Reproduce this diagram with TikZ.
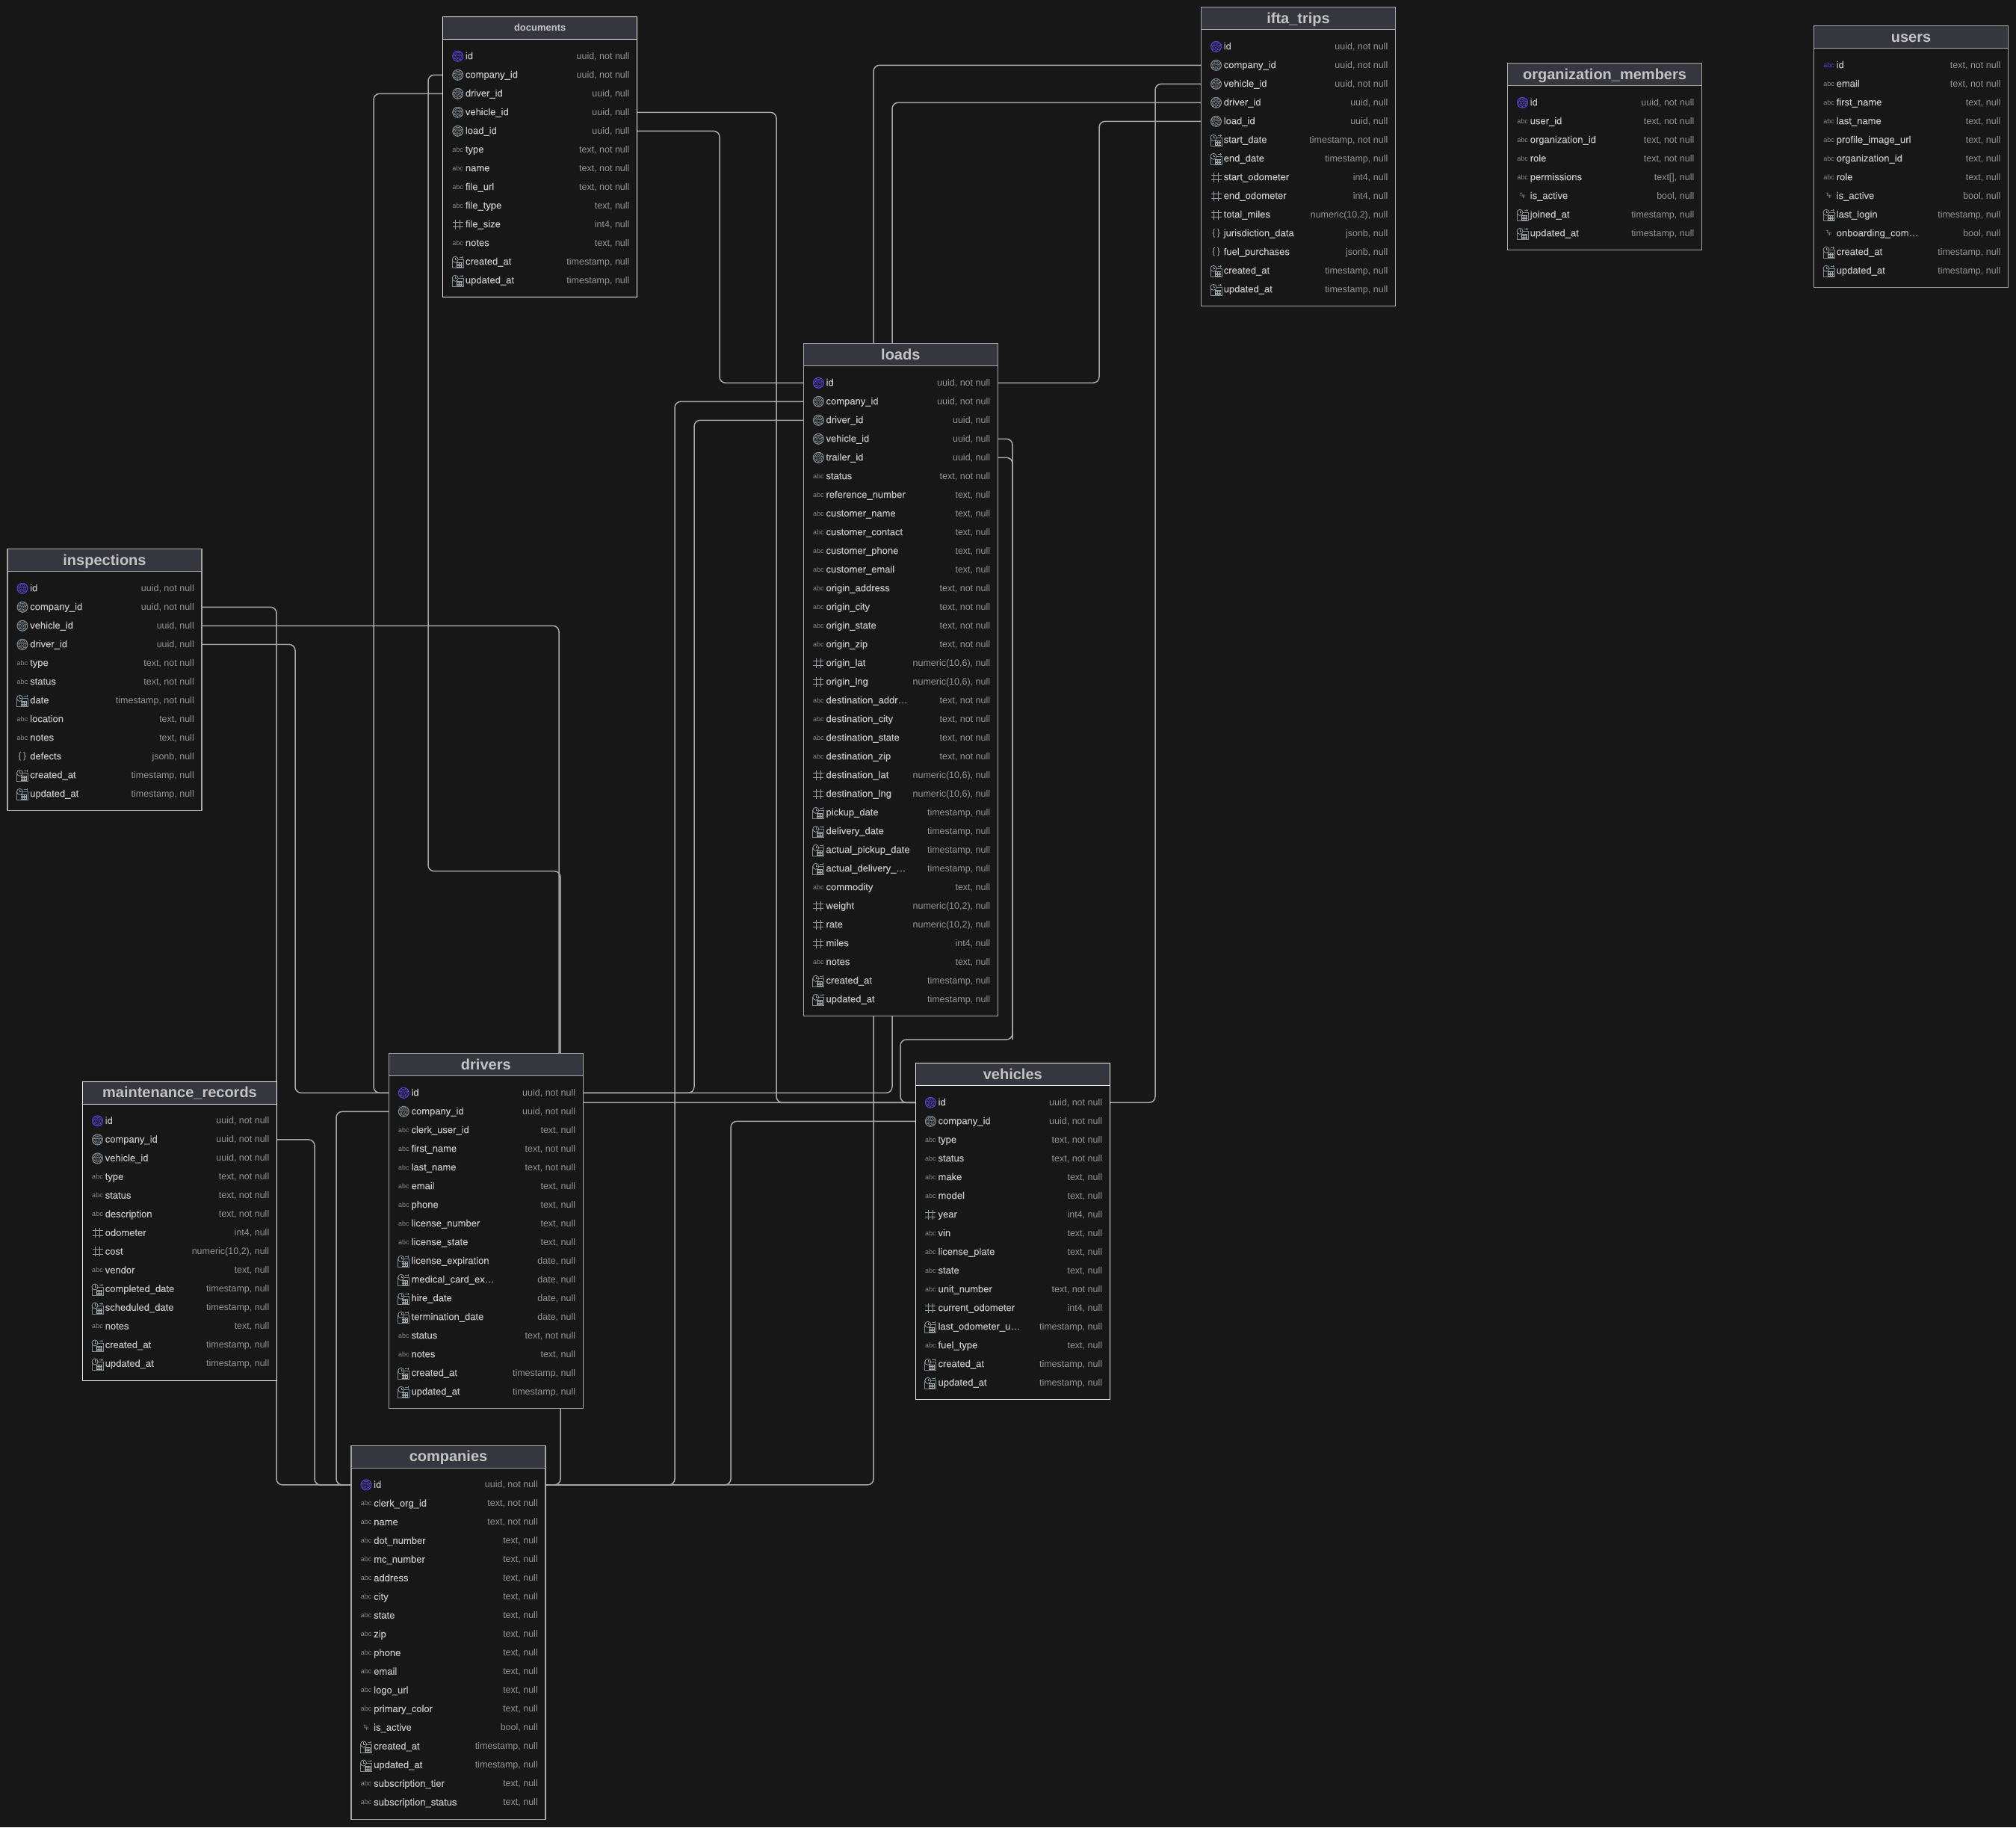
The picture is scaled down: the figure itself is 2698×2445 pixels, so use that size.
\documentclass[tikz,border=0pt]{standalone}
\usepackage{fontspec}
\setmainfont{Liberation Sans}
\newfontfamily\fieldfont[FakeBold=0.2]{Liberation Sans}
\usetikzlibrary{positioning}
\catcode`\_=12

\definecolor{canvas}{HTML}{171717}
\definecolor{headfill}{HTML}{36363F}
\definecolor{edgewhite}{HTML}{F2F2F2}
\definecolor{edgegray}{HTML}{A8A8A8}
\definecolor{fieldtxt}{HTML}{C4C4C4}
\definecolor{typetxt}{HTML}{949494}
\definecolor{icongray}{HTML}{7F8A90}
\definecolor{iconpk}{HTML}{5A3FD0}

\pgfdeclarelayer{canvaslayer}
\pgfdeclarelayer{linklayer}
\pgfsetlayers{canvaslayer,linklayer,main}

\tikzset{
    tablebox/.style={rectangle, fill=canvas, line width=1.5pt, minimum width=260pt, inner sep=0pt, outer sep=0pt, anchor=north west},
    headbox/.style={rectangle, fill=headfill, line width=1.5pt, minimum width=260pt, minimum height=30pt, inner sep=0pt, outer sep=0pt, anchor=north west, text=fieldtxt, text height=17pt, text depth=4pt, font=\fontsize{20}{22}\selectfont\bfseries},
    rowbox/.style={rectangle, minimum width=260pt, minimum height=25pt, inner sep=0pt, outer sep=0pt, anchor=west},
    fieldname/.style={inner sep=0pt, anchor=base west, text=fieldtxt, font=\fontsize{13}{15}\fieldfont},
    fieldtype/.style={inner sep=0pt, anchor=base east, text=typetxt, font=\fontsize{12.5}{15}\selectfont},
    abcicon/.style={inner sep=0pt, anchor=base, font=\fontsize{9}{11}\selectfont},
    iconline/.style={line width=0.8pt},
    rel/.style={draw=edgegray, line width=1.5pt, rounded corners=8pt}
}

% icons of the column types, drawn round (#1,#2) in colour #3
\newcommand{\iconfinger}[3]{
    \fill[#3] (#1,#2) circle (7.5);
    \foreach \rad in {1,2.6,4.2,5.8}
        \draw[canvas, line width=0.9pt, dash pattern=on 4pt off 1pt] (#1,#2) circle (\rad);
}
\newcommand{\iconk}[2]{\iconfinger{#1}{#2}{iconpk}}
\newcommand{\iconf}[2]{\iconfinger{#1}{#2}{icongray}}
\newcommand{\icona}[2]{\node[abcicon, text=icongray] (\rowid-i) at (#1,#2+3) {abc};}
\newcommand{\iconp}[2]{\node[abcicon, text=iconpk] (\rowid-i) at (#1,#2+3) {abc};}
\newcommand{\iconb}[2]{\node[abcicon, text=icongray!70!white, font=\fontsize{6}{7}\selectfont] (\rowid-i) at (#1,#2+2) {\raisebox{1.5pt}{T}\kern-0.6pt/\kern-0.6pt\raisebox{-1.5pt}{F}};}
\newcommand{\iconj}[2]{\node[abcicon, text=icongray!70!white, font=\fontsize{12}{13}\selectfont] (\rowid-i) at (#1,#2+3.5) {\{\kern2.5pt\}};}
\newcommand{\iconn}[2]{
    \draw[icongray!85!white, line width=1pt] (#1-3,#2-6.5) -- (#1-3,#2+6.5) (#1+3,#2-6.5) -- (#1+3,#2+6.5)
        (#1-7,#2-3.3) -- (#1+7,#2-3.3) (#1-7,#2+3.3) -- (#1+7,#2+3.3);
}
\newcommand{\icont}[2]{
    \draw[icongray, iconline] (#1-7.5,#2-3) rectangle (#1+7.5,#2+8);
    \draw[icongray, iconline] (#1+2,#2-5.5) -- (#1+7,#2-5.5) (#1+6,#2-7) -- (#1+6,#2-4);
    \foreach \gy in {1,3,5,7}
        \draw[icongray!70!white, line width=0.5pt] (#1-2,#2+\gy) -- (#1+6,#2+\gy);
    \foreach \gx in {-1,2,5}
        \draw[icongray!70!white, line width=0.5pt] (#1+\gx,#2+1) -- (#1+\gx,#2+7);
    \filldraw[draw=icongray!85!white, fill=canvas, iconline] (#1-3.5,#2-3) circle (4);
    \draw[icongray!85!white, line width=0.6pt] (#1-3.5,#2-5.5) -- (#1-3.5,#2-3) -- (#1-1.5,#2-3);
}

% name, title, left, top, number of rows, edge colour, rows
\newcommand{\dbtable}[7]{
    \pgfmathsetmacro{\boxh}{52+25*(#5-1)+23}
    \node[tablebox, draw=#6, minimum height=\boxh] (#1) at (#3,#4) {};
    \node[headbox, draw=#6] (#1-head) at (#3,#4) {#2};
    \foreach \ic/\col/\typ [count=\rw] in {#7} {
        \pgfmathsetmacro{\rwy}{#4+52.6+25*(\rw-1)}
        \def\rowid{#1-\rw}
        \node[rowbox] (\rowid) at (#3,\rwy) {};
        \csname icon\ic\endcsname{#3+20}{\rwy}
        \node[fieldname] (\rowid-n) at (#3+30,\rwy+3.9) {\col};
        \node[fieldtype] (\rowid-t) at (#3+250,\rwy+3.9) {\typ};
    }
}

% a link with one upright run at the x of #2
\newcommand{\rellink}[3]{
    \draw[rel] (#1) -- (#1 -| #2) -- (#3 -| #2) -- (#3);
}

\begin{document}
\begin{tikzpicture}[x=1pt, y=-1pt]
    \useasboundingbox (0,0) rectangle (2698,2445);
    \begin{pgfonlayer}{canvaslayer}
        \fill[canvas] (0,0) rectangle (2698,2445);
    \end{pgfonlayer}

    \dbtable{documents}{\fontsize{13}{15}\selectfont\raisebox{3pt}{documents}}{592.7}{22.7}{13}{edgewhite}{
        k/id/{uuid, not null}, f/company_id/{uuid, not null}, f/driver_id/{uuid, null}, f/vehicle_id/{uuid, null},
        f/load_id/{uuid, null}, a/type/{text, not null}, a/name/{text, not null}, a/file_url/{text, not null},
        a/file_type/{text, null}, n/file_size/{int4, null}, a/notes/{text, null},
        t/created_at/{timestamp, null}, t/updated_at/{timestamp, null}}

    \dbtable{ifta}{ifta_trips}{1607.5}{9.7}{14}{edgegray}{
        k/id/{uuid, not null}, f/company_id/{uuid, not null}, f/vehicle_id/{uuid, not null}, f/driver_id/{uuid, null},
        f/load_id/{uuid, null}, t/start_date/{timestamp, not null}, t/end_date/{timestamp, null},
        n/start_odometer/{int4, null}, n/end_odometer/{int4, null}, n/total_miles/{numeric(10,2), null},
        j/jurisdiction_data/{jsonb, null}, j/fuel_purchases/{jsonb, null},
        t/created_at/{timestamp, null}, t/updated_at/{timestamp, null}}

    \dbtable{orgmembers}{organization_members}{2017.5}{84.7}{8}{edgegray}{
        k/id/{uuid, not null}, a/user_id/{text, not null}, a/organization_id/{text, not null}, a/role/{text, not null},
        a/permissions/{text[], null}, b/is_active/{bool, null},
        t/joined_at/{timestamp, null}, t/updated_at/{timestamp, null}}

    \dbtable{users}{users}{2427.5}{34.7}{12}{edgegray}{
        p/id/{text, not null}, a/email/{text, not null}, a/first_name/{text, null}, a/last_name/{text, null},
        a/profile_image_url/{text, null}, a/organization_id/{text, null}, a/role/{text, null}, b/is_active/{bool, null},
        t/last_login/{timestamp, null}, b/onboarding_com…/{bool, null},
        t/created_at/{timestamp, null}, t/updated_at/{timestamp, null}}

    \dbtable{loads}{loads}{1075.3}{459.7}{34}{edgegray}{
        k/id/{uuid, not null}, f/company_id/{uuid, not null}, f/driver_id/{uuid, null}, f/vehicle_id/{uuid, null},
        f/trailer_id/{uuid, null}, a/status/{text, not null}, a/reference_number/{text, null},
        a/customer_name/{text, null}, a/customer_contact/{text, null}, a/customer_phone/{text, null},
        a/customer_email/{text, null}, a/origin_address/{text, not null}, a/origin_city/{text, not null},
        a/origin_state/{text, not null}, a/origin_zip/{text, not null}, n/origin_lat/{numeric(10,6), null},
        n/origin_lng/{numeric(10,6), null}, a/destination_addr…/{text, not null}, a/destination_city/{text, not null},
        a/destination_state/{text, not null}, a/destination_zip/{text, not null}, n/destination_lat/{numeric(10,6), null},
        n/destination_lng/{numeric(10,6), null}, t/pickup_date/{timestamp, null}, t/delivery_date/{timestamp, null},
        t/actual_pickup_date/{timestamp, null}, t/actual_delivery_…/{timestamp, null}, a/commodity/{text, null},
        n/weight/{numeric(10,2), null}, n/rate/{numeric(10,2), null}, n/miles/{int4, null}, a/notes/{text, null},
        t/created_at/{timestamp, null}, t/updated_at/{timestamp, null}}

    \dbtable{inspections}{inspections}{10}{734.7}{12}{edgegray}{
        k/id/{uuid, not null}, f/company_id/{uuid, not null}, f/vehicle_id/{uuid, null}, f/driver_id/{uuid, null},
        a/type/{text, not null}, a/status/{text, not null}, t/date/{timestamp, not null}, a/location/{text, null},
        a/notes/{text, null}, j/defects/{jsonb, null}, t/created_at/{timestamp, null}, t/updated_at/{timestamp, null}}

    \dbtable{maintenance}{maintenance_records}{110.5}{1447.3}{14}{edgewhite}{
        k/id/{uuid, not null}, f/company_id/{uuid, not null}, f/vehicle_id/{uuid, not null}, a/type/{text, not null},
        a/status/{text, not null}, a/description/{text, not null}, n/odometer/{int4, null}, n/cost/{numeric(10,2), null},
        a/vendor/{text, null}, t/completed_date/{timestamp, null}, t/scheduled_date/{timestamp, null},
        a/notes/{text, null}, t/created_at/{timestamp, null}, t/updated_at/{timestamp, null}}

    \dbtable{drivers}{drivers}{520.3}{1409.7}{17}{edgegray}{
        k/id/{uuid, not null}, f/company_id/{uuid, not null}, a/clerk_user_id/{text, null}, a/first_name/{text, not null},
        a/last_name/{text, not null}, a/email/{text, null}, a/phone/{text, null}, a/license_number/{text, null},
        a/license_state/{text, null}, t/license_expiration/{date, null}, t/medical_card_ex…/{date, null},
        t/hire_date/{date, null}, t/termination_date/{date, null}, a/status/{text, not null}, a/notes/{text, null},
        t/created_at/{timestamp, null}, t/updated_at/{timestamp, null}}

    \dbtable{vehicles}{vehicles}{1225.3}{1422.7}{16}{edgewhite}{
        k/id/{uuid, not null}, f/company_id/{uuid, not null}, a/type/{text, not null}, a/status/{text, not null},
        a/make/{text, null}, a/model/{text, null}, n/year/{int4, null}, a/vin/{text, null}, a/license_plate/{text, null},
        a/state/{text, null}, a/unit_number/{text, not null}, n/current_odometer/{int4, null},
        t/last_odometer_u…/{timestamp, null}, a/fuel_type/{text, null},
        t/created_at/{timestamp, null}, t/updated_at/{timestamp, null}}

    \dbtable{companies}{companies}{470}{1934.3}{18}{edgegray}{
        k/id/{uuid, not null}, a/clerk_org_id/{text, not null}, a/name/{text, not null}, a/dot_number/{text, null},
        a/mc_number/{text, null}, a/address/{text, null}, a/city/{text, null}, a/state/{text, null}, a/zip/{text, null},
        a/phone/{text, null}, a/email/{text, null}, a/logo_url/{text, null}, a/primary_color/{text, null},
        b/is_active/{bool, null}, t/created_at/{timestamp, null}, t/updated_at/{timestamp, null},
        a/subscription_tier/{text, null}, a/subscription_status/{text, null}}

    % upright runs of the links
    \foreach \cx in {370,395,421,450,500,573,748,750,903,929,963,978,1039,1169,1194,1205,1355,1471,1546}
        \coordinate (ch\cx) at (\cx,0);
    \coordinate (docbend) at (573,1165.7);
    \coordinate (trailbend) at (1355,1391);

    \begin{pgfonlayer}{linklayer}
        \rellink{inspections-2.east}{ch370}{companies-1.west}
        \rellink{inspections-3.east}{ch748}{vehicles-1.west}
        \rellink{inspections-4.east}{ch395}{drivers-1.west}
        \rellink{maintenance-2.east}{ch421}{companies-1.west}
        \rellink{drivers-2.west}{ch450}{companies-1.west}
        \rellink{documents-3.west}{ch500}{drivers-1.west}
        \rellink{documents-4.east}{ch1039}{vehicles-1.west}
        \rellink{documents-5.east}{ch963}{loads-1.west}
        \rellink{loads-2.west}{ch903}{companies-1.east}
        \rellink{loads-3.west}{ch929}{drivers-1.east}
        \rellink{vehicles-2.west}{ch978}{companies-1.east}
        \rellink{ifta-2.west}{ch1169}{companies-1.east}
        \rellink{ifta-3.west}{ch1546}{vehicles-1.east}
        \rellink{ifta-4.west}{ch1194}{drivers-1.east}
        \rellink{ifta-5.west}{ch1471}{loads-1.east}
        \draw[rel] (documents-2.west) -- (documents-2.west -| docbend) -- (docbend) -- (docbend -| ch750) -- (companies-1.east -| ch750) -- (companies-1.east);
        \draw[rel] (loads-4.east) -- (loads-4.east -| trailbend) -- (trailbend) -- (trailbend -| ch1205) -- (vehicles-1.west -| ch1205) -- (vehicles-1.west);
        \draw[rel] (loads-5.east) -- (loads-5.east -| trailbend) -- (trailbend);
    \end{pgfonlayer}
\end{tikzpicture}
\end{document}
